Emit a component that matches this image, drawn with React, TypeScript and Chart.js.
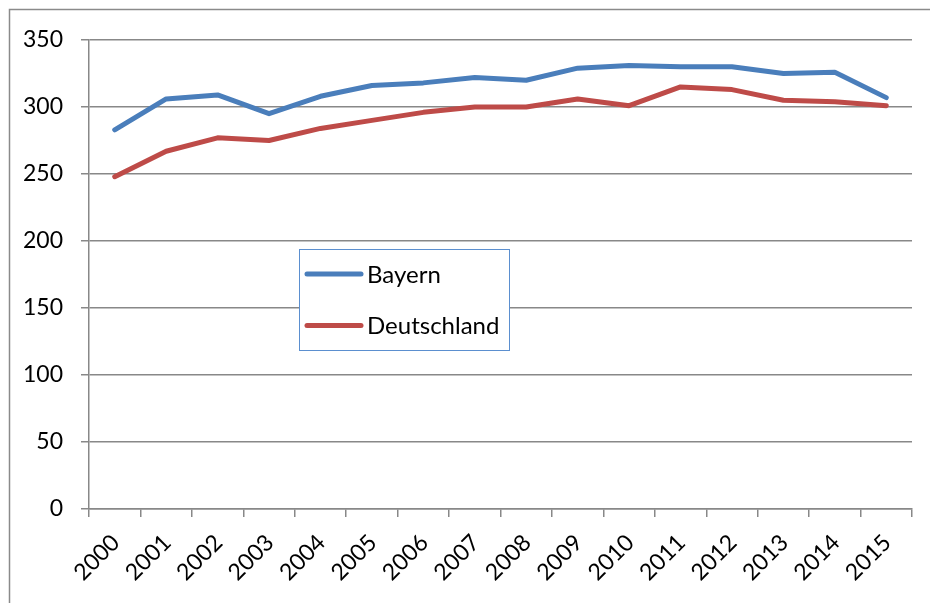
import React, { useEffect, useRef } from "react";
import { Chart, registerables } from "chart.js";

Chart.register(...registerables);

const years = ["2000", "2001", "2002", "2003", "2004", "2005", "2006", "2007", "2008", "2009", "2010", "2011", "2012", "2013", "2014", "2015"];
const bayern = [283, 306, 309, 295, 308, 316, 318, 322, 320, 329, 331, 330, 330, 325, 326, 307];
const deutschland = [248, 267, 277, 275, 284, 290, 296, 300, 300, 306, 301, 315, 313, 305, 304, 301];
const yMin = 0;
const yMax = 350;
const yStep = 50;
const seriesNames = ["Bayern", "Deutschland"];

const FONT = "Lato, 'Open Sans', sans-serif";
const GRID = "#888888";

const framePlugin = {
  id: "frame",
  beforeDraw(chart: any) {
    const ctx = chart.ctx;
    ctx.save();
    ctx.fillStyle = "#ffffff";
    ctx.fillRect(0, 0, chart.width, chart.height);
    ctx.strokeStyle = "#8a8a8a";
    ctx.lineWidth = 1.5;
    ctx.strokeRect(9.5, 9.5, chart.width + 20, chart.height + 20);
    ctx.restore();
  },
};

const boxLegendPlugin = {
  id: "boxLegend",
  afterDraw(chart: any) {
    const ctx = chart.ctx;
    const x = 299.5;
    const y = 249.5;
    const w = 210;
    const h = 101;
    ctx.save();
    ctx.fillStyle = "#ffffff";
    ctx.fillRect(x, y, w, h);
    ctx.strokeStyle = "#5b8fcf";
    ctx.lineWidth = 1;
    ctx.strokeRect(x, y, w, h);
    chart.data.datasets.forEach((ds: any, i: number) => {
      const cy = 274 + i * 51.5;
      ctx.strokeStyle = ds.borderColor;
      ctx.lineWidth = 5;
      ctx.lineCap = "round";
      ctx.beginPath();
      ctx.moveTo(307, cy);
      ctx.lineTo(361, cy);
      ctx.stroke();
      ctx.fillStyle = "#000000";
      ctx.font = `24px ${FONT}`;
      ctx.textBaseline = "middle";
      ctx.textAlign = "left";
      ctx.fillText(ds.label, 367, cy + 1);
    });
    ctx.restore();
  },
};

export default function App() {
  const canvasRef = useRef<HTMLCanvasElement | null>(null);

  useEffect(() => {
    if (!canvasRef.current) return;
    const chart = new Chart(canvasRef.current, {
      type: "line",
      data: {
        labels: years,
        datasets: [
          {
            label: seriesNames[0],
            data: bayern,
            borderColor: "#4a7ebb",
            backgroundColor: "#4a7ebb",
            borderWidth: 5,
            pointRadius: 0,
            tension: 0,
            borderJoinStyle: "round",
            borderCapStyle: "round",
          },
          {
            label: seriesNames[1],
            data: deutschland,
            borderColor: "#be4b48",
            backgroundColor: "#be4b48",
            borderWidth: 5,
            pointRadius: 0,
            tension: 0,
            borderJoinStyle: "round",
            borderCapStyle: "round",
          },
        ],
      },
      options: {
        animation: false,
        responsive: false,
        maintainAspectRatio: false,
        devicePixelRatio: 1,
        layout: { padding: { top: 40, right: 18, left: 0, bottom: 0 } },
        plugins: {
          legend: { display: false },
          tooltip: { enabled: false },
          title: { display: false },
        },
        scales: {
          x: {
            offset: true,
            grid: {
              offset: true,
              drawOnChartArea: false,
              drawTicks: true,
              tickLength: 8,
              color: GRID,
              lineWidth: 1.5,
            },
            border: { display: true, color: GRID, width: 1.5 },
            ticks: {
              minRotation: 45,
              maxRotation: 45,
              autoSkip: false,
              padding: 12,
              labelOffset: 1,
              color: "#000000",
              font: { family: FONT, size: 23 },
            },
            afterFit(scale: any) {
              scale.height = 94;
            },
          },
          y: {
            min: yMin,
            max: yMax,
            grid: {
              drawOnChartArea: true,
              drawTicks: true,
              tickLength: 8,
              color: GRID,
              lineWidth: 1.5,
            },
            border: { display: true, color: GRID, width: 1.5 },
            ticks: {
              stepSize: yStep,
              padding: 18,
              color: "#000000",
              font: { family: FONT, size: 23 },
            },
            afterFit(scale: any) {
              scale.width = 89;
            },
          },
        },
      },
      plugins: [framePlugin, boxLegendPlugin],
    });
    return () => chart.destroy();
  }, []);

  return (
    <div style={{ position: "fixed", left: 0, top: 0, width: 930, height: 603, background: "#fff" }}>
      <canvas ref={canvasRef} width={930} height={603} style={{ width: 930, height: 603, display: "block" }} />
    </div>
  );
}
